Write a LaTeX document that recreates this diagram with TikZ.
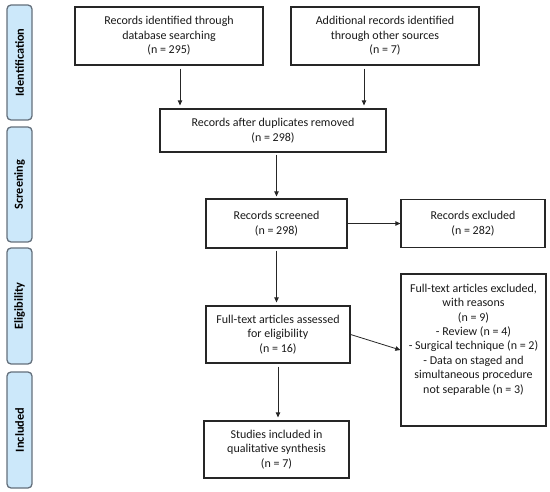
\documentclass[tikz,border=0pt]{standalone}
\usepackage{fontspec}
\setmainfont{Carlito}
\usetikzlibrary{arrows.meta}
\definecolor{phasefill}{RGB}{204,232,250}
\definecolor{phaseline}{RGB}{100,112,124}
\begin{document}
\begin{tikzpicture}[x=1pt,y=-1pt,
  box/.style={draw=black!85, line width=1.25pt, align=center, inner sep=2pt,
    font=\fontsize{12}{14.4}\selectfont, text=black!90},
  phase/.style={draw=phaseline, line width=1.3pt, fill=phasefill, rounded corners=4pt,
    minimum width=25pt, inner sep=0pt},
  phasetext/.style={rotate=90, font=\fontsize{12.3}{14}\selectfont\bfseries},
  arr/.style={draw=black!85, line width=0.8pt, -{Triangle[length=5pt,width=4.5pt]}}]
\useasboundingbox (0,0) rectangle (550,492);
% phase labels
\node[phase, minimum height=115pt] (p1) at (19.5,62.5) {};
\node[phasetext] (t1) at (p1.center) {Identification};
\node[phase, minimum height=115pt] (p2) at (19.5,184.5) {};
\node[phasetext] (t2) at (p2.center) {Screening};
\node[phase, minimum height=116pt] (p3) at (19.5,306) {};
\node[phasetext] (t3) at (p3.center) {Eligibility};
\node[phase, minimum height=116pt] (p4) at (19.5,430) {};
\node[phasetext] (t4) at (p4.center) {Included};
% boxes
\node[box, minimum width=188pt, minimum height=58pt] (b1) at (169,36)
  {Records identified through\\database searching\\(n = 295)};
\node[box, minimum width=188pt, minimum height=58pt] (b2) at (385,36)
  {Additional records identified\\through other sources\\(n = 7)};
\node[box, minimum width=226pt, minimum height=43pt] (b3) at (273,130.5)
  {Records after duplicates removed\\(n = 298)};
\node[box, minimum width=141pt, minimum height=49pt] (b4) at (276.5,223.5)
  {Records screened\\(n = 298)};
\node[box, minimum width=144pt, minimum height=48pt] (b5) at (473,223.5)
  {Records excluded\\(n = 282)};
\node[box, minimum width=144pt, minimum height=57pt] (b6) at (278,334.5)
  {Full-text articles assessed\\for eligibility\\(n = 16)};
\node[box, inner sep=6pt] (b7) at (473.5,350)
  {\begin{minipage}[c][140pt][t]{133pt}\centering
   \vspace*{4pt}Full-text articles excluded,\\with reasons\\(n = 9)\\- Review (n = 4)\\- Surgical technique (n = 2)\\- Data on staged and\\simultaneous procedure\\not separable (n = 3)
   \end{minipage}};
\node[box, minimum width=145pt, minimum height=57pt] (b8) at (276.5,449.5)
  {Studies included in\\qualitative synthesis\\(n = 7)};
% connectors
\draw[arr, shorten <=3pt, shorten >=3pt] ([xshift=11pt]b1.south) -- ([xshift=11pt]b1.south |- b3.north);
\draw[arr, shorten <=3pt, shorten >=3pt] ([xshift=-21pt]b2.south) -- ([xshift=-21pt]b2.south |- b3.north);
\draw[arr, shorten <=2pt, shorten >=2pt] (b4.north |- b3.south) -- (b4.north);
\draw[arr] (b4.east) -- (b5.west);
\draw[arr, shorten <=2pt, shorten >=3pt] (b4.south) -- (b4.south |- b6.north);
\draw[arr] (b6.east) -- (b7.west);
\draw[arr, shorten <=3pt, shorten >=3pt] (b6.south) -- (b6.south |- b8.north);
\end{tikzpicture}
\end{document}
